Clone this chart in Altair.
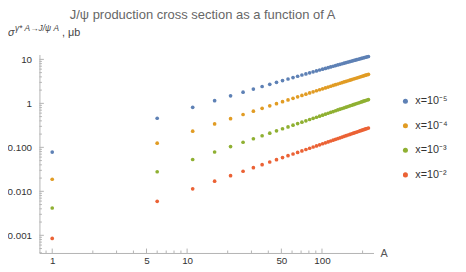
import altair as alt
import pandas as pd

# Mass number A
A = [1, 6, 11, 16, 21, 26, 31, 36, 41, 46, 51, 56, 61, 66, 71, 76, 81, 86, 91, 96,
     101, 106, 111, 116, 121, 126, 131, 136, 141, 146, 151, 156, 161, 166, 171, 176,
     181, 186, 191, 196, 201, 206, 211, 216, 221]

# cross sections (micro-barn)
sig_m5 = [0.0782, 0.458, 0.814, 1.153, 1.481, 1.800, 2.110, 2.415, 2.713, 3.006,
          3.293, 3.577, 3.857, 4.134, 4.409, 4.677, 4.943, 5.209, 5.469, 5.730,
          5.986, 6.241, 6.494, 6.745, 6.993, 7.240, 7.486, 7.727, 7.968, 8.210,
          8.448, 8.685, 8.920, 9.153, 9.387, 9.618, 9.849, 10.08, 10.30, 10.53,
          10.76, 10.98, 11.20, 11.42, 11.65]
sig_m4 = [0.01884, 0.1246, 0.2327, 0.3410, 0.4492, 0.5572, 0.6648, 0.7720, 0.8793, 0.9861,
          1.093, 1.199, 1.304, 1.410, 1.515, 1.620, 1.725, 1.830, 1.934, 2.039,
          2.142, 2.245, 2.349, 2.452, 2.555, 2.658, 2.761, 2.863, 2.966, 3.068,
          3.170, 3.271, 3.373, 3.475, 3.575, 3.676, 3.777, 3.878, 3.978, 4.079,
          4.179, 4.279, 4.380, 4.480, 4.579]
sig_m3 = [0.004169, 0.02787, 0.05283, 0.07834, 0.1043, 0.1305, 0.1569, 0.1836, 0.2104, 0.2373,
          0.2643, 0.2916, 0.3189, 0.3463, 0.3737, 0.4013, 0.4289, 0.4565, 0.4842, 0.5121,
          0.5398, 0.5677, 0.5957, 0.6239, 0.6518, 0.6800, 0.7081, 0.7362, 0.7644, 0.7929,
          0.8211, 0.8492, 0.8776, 0.9062, 0.9346, 0.9632, 0.9915, 1.020, 1.048, 1.077,
          1.106, 1.134, 1.163, 1.192, 1.220]
sig_m2 = [0.000851, 0.005932, 0.01138, 0.01699, 0.02272, 0.02855, 0.03442, 0.04037, 0.04637, 0.05241,
          0.05845, 0.06453, 0.07066, 0.07681, 0.08299, 0.08923, 0.09543, 0.1017, 0.1079, 0.1142,
          0.1205, 0.1268, 0.1331, 0.1395, 0.1458, 0.1522, 0.1585, 0.1649, 0.1713, 0.1777,
          0.1841, 0.1905, 0.1970, 0.2034, 0.2099, 0.2163, 0.2228, 0.2293, 0.2358, 0.2424,
          0.2488, 0.2554, 0.2619, 0.2684, 0.2749]

series = ["x=10\u207b\u2075", "x=10\u207b\u2074", "x=10\u207b\u00b3", "x=10\u207b\u00b2"]
colors = ["#5E81B5", "#E19C24", "#8FB032", "#EB6235"]

x_major = [1, 5, 10, 50, 100]
x_minor = [0.9, 2, 3, 4, 6, 7, 8, 9, 20, 30, 40, 60, 70, 80, 90, 200]
y_major = [0.001, 0.01, 0.1, 1, 10]
y_minor = [0.0004, 0.0005, 0.0006, 0.0007, 0.0008, 0.0009,
           0.002, 0.003, 0.004, 0.005, 0.006, 0.007, 0.008, 0.009,
           0.02, 0.03, 0.04, 0.05, 0.06, 0.07, 0.08, 0.09,
           0.2, 0.3, 0.4, 0.5, 0.6, 0.7, 0.8, 0.9,
           2, 3, 4, 5, 6, 7, 8, 9]

title_text = "J/\u03c8 production cross section as a function of A"

rows = []
for name, vals in zip(series, [sig_m5, sig_m4, sig_m3, sig_m2]):
    for a, v in zip(A, vals):
        rows.append({"A": a, "sigma": v, "series": name})
df = pd.DataFrame(rows)

FONT = "Liberation Sans"
AX = "#b3b3b3"
W, H = 340, 202

xscale = alt.Scale(type="log", domain=[0.804, 241], nice=False)
yscale = alt.Scale(type="log", domain=[0.000396, 12.9], nice=False)

xaxis = alt.Axis(values=x_major, format="d", ticks=False, tickSize=0,
                 labelPadding=3, domainColor=AX, labelColor="#333333",
                 labelFont=FONT, labelFontSize=10, grid=False, title=None,
                 labelFlush=False)
yaxis = alt.Axis(values=y_major,
                 labelExpr="datum.value >= 1 ? format(datum.value, 'd') : format(datum.value, '.3f')",
                 ticks=False, tickSize=0, labelPadding=8, domainColor=AX,
                 labelColor="#333333", labelFont=FONT, labelFontSize=10,
                 grid=False, title=None, labelFlush=False)

points = alt.Chart(df).mark_circle(size=14, opacity=1).encode(
    x=alt.X("A:Q", scale=xscale, axis=xaxis),
    y=alt.Y("sigma:Q", scale=yscale, axis=yaxis),
    color=alt.Color("series:N", sort=series,
                    scale=alt.Scale(domain=series, range=colors),
                    legend=alt.Legend(orient="none", legendX=367, legendY=42, title=None,
                                      symbolType="circle", symbolSize=26,
                                      symbolStrokeWidth=0, labelFont=FONT,
                                      labelFontSize=11, labelColor="#333333",
                                      rowPadding=13, labelOffset=4.5, padding=0)),
)

def yticks(vals, length):
    return alt.Chart(pd.DataFrame({"v": vals})).mark_rule(color=AX, strokeWidth=1).encode(
        y=alt.Y("v:Q", scale=yscale, axis=yaxis), x=alt.value(0), x2=alt.value(length))

def xticks(vals, length):
    return alt.Chart(pd.DataFrame({"u": vals})).mark_rule(color=AX, strokeWidth=1).encode(
        x=alt.X("u:Q", scale=xscale, axis=xaxis), y=alt.value(H), y2=alt.value(H - length))

def label(text, x, y, size, color="#555555", style="normal", align="left"):
    return alt.Chart(pd.DataFrame({"t": [text]})).mark_text(
        font=FONT, fontSize=size, color=color, fontStyle=style, align=align,
        baseline="alphabetic").encode(text="t:N", x=alt.value(x), y=alt.value(y))

chart = alt.layer(
    yticks(y_minor, 2.5), yticks(y_major, 4.5),
    xticks(x_minor, 2.5), xticks(x_major, 4.5),
    points,
    label(title_text, 166, -36, 13.2, color="#666666", align="center"),
    label("\u03c3", -32, -18.5, 11, color="#444444", style="italic"),
    label("\u03b3* A\u2192J/\u03c8 A", -25, -24, 8.5, color="#444444", style="italic"),
    label(", \u03bcb", 23, -19, 11, color="#444444"),
    label("A", 350.7, 206, 11, color="#555555", align="center"),
).properties(
    width=W, height=H,
    padding={"left": 32, "top": 45, "right": 86, "bottom": 17},
    autosize=alt.AutoSizeParams(type="none"),
).configure_view(stroke=None)

chart.save("out.html", embed_options={"renderer": "svg", "actions": False})
